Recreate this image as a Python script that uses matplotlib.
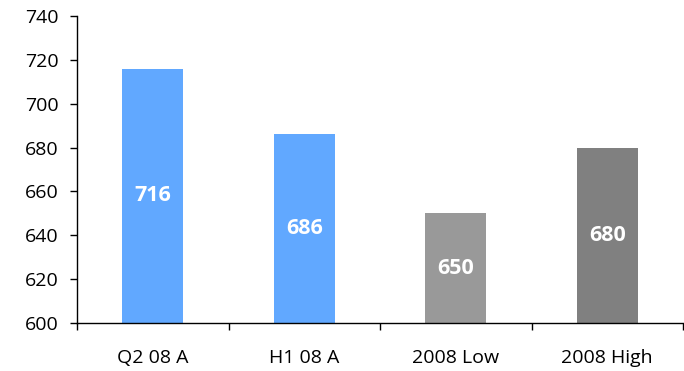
import numpy as np
import matplotlib.pyplot as plt
from matplotlib.ticker import FixedLocator

# categories and values
categories = ['Q2 08 A', 'H1 08 A', '2008 Low', '2008 High']
values = [716, 686, 650, 680]
colors = ['#61a8ff', '#61a8ff', '#999999', '#808080']

plt.rcParams['font.family'] = ['Open Sans', 'DejaVu Sans']

fig = plt.figure(figsize=(6.84, 3.71), dpi=100)
ax = fig.add_axes([0.1126, 0.1294, 0.886, 0.8275])

base = 600
x = np.arange(len(categories))
ax.bar(x, np.array(values) - base, bottom=base, width=0.4, color=colors)

# value labels in the middle of each bar
for xi, v in zip(x, values):
    ax.text(xi, (base + v) / 2, str(v), ha='center', va='center',
            color='white', fontsize=15.5, fontweight='bold')

ax.set_ylim(600, 740)
ax.set_yticks(range(600, 741, 20))
ax.set_xlim(-0.5, len(categories) - 0.5)
ax.set_xticks(x)
ax.set_xticklabels(categories)
# tick marks sit between the categories
ax.xaxis.set_minor_locator(FixedLocator(np.arange(-0.5, len(categories), 1.0)))

ax.tick_params(axis='x', which='major', length=0, pad=19, labelsize=14, colors='black')
ax.tick_params(axis='x', which='minor', length=5, width=1, direction='out')
ax.tick_params(axis='y', length=5, width=1, direction='out', pad=8, labelsize=14)

for s in ['top', 'right']:
    ax.spines[s].set_visible(False)
ax.spines['left'].set_linewidth(1)
ax.spines['bottom'].set_linewidth(1)

fig.savefig('out.png', dpi=100)
